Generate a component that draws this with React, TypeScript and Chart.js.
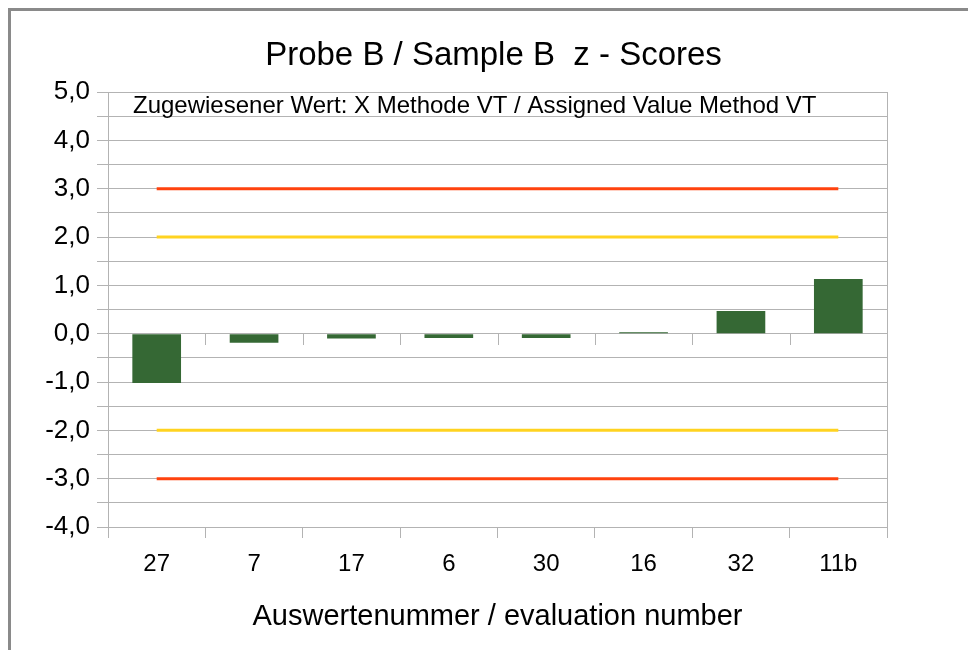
import React, { useEffect, useRef } from 'react';
import { Chart, registerables } from 'chart.js';

Chart.register(...registerables);

const categories = ['27', '7', '17', '6', '30', '16', '32', '11b'];
const zScores = [-1.02, -0.19, -0.1, -0.09, -0.09, 0.03, 0.47, 1.13];
const upperAction = [3, 3, 3, 3, 3, 3, 3, 3];
const upperWarning = [2, 2, 2, 2, 2, 2, 2, 2];
const lowerWarning = [-2, -2, -2, -2, -2, -2, -2, -2];
const lowerAction = [-3, -3, -3, -3, -3, -3, -3, -3];
const yMin = -4;
const yMax = 5;
const yStep = 0.5;

const titleText = 'Probe B / Sample B  z - Scores';
const noteText = 'Zugewiesener Wert: X Methode VT / Assigned Value Method VT';
const xAxisTitle = 'Auswertenummer / evaluation number';

const FONT = '"Liberation Sans", Arial, sans-serif';
const GRID = '#b3b3b3';

const decorPlugin = {
  id: 'decor',
  beforeDatasetsDraw(chart: any) {
    const { ctx, chartArea, scales } = chart;
    const xs = scales.x;
    const ys = scales.y;
    ctx.save();
    ctx.strokeStyle = GRID;
    ctx.lineWidth = 1;
    // right border of plot area
    const rx = Math.round(chartArea.right) + 0.5;
    ctx.beginPath();
    ctx.moveTo(rx, chartArea.top);
    ctx.lineTo(rx, chartArea.bottom);
    ctx.stroke();
    // small ticks under the zero line at category boundaries
    const y0 = Math.round(ys.getPixelForValue(0));
    for (let i = 1; i < categories.length; i++) {
      const x = Math.round(xs.getPixelForValue(i - 0.5)) + 0.5;
      ctx.beginPath();
      ctx.moveTo(x, y0);
      ctx.lineTo(x, y0 + 11);
      ctx.stroke();
    }
    ctx.restore();
  },
  afterDraw(chart: any) {
    const { ctx, chartArea, width } = chart;
    ctx.save();
    ctx.fillStyle = '#000';
    ctx.textBaseline = 'middle';
    ctx.textAlign = 'center';
    ctx.font = `33px ${FONT}`;
    ctx.fillText(titleText, width / 2, 45);
    ctx.textAlign = 'left';
    ctx.font = `24px ${FONT}`;
    ctx.fillText(noteText, chartArea.left + 25, chartArea.top + 14);
    ctx.restore();
  },
};

export default function App() {
  const ref = useRef<HTMLCanvasElement | null>(null);

  useEffect(() => {
    if (!ref.current) return;
    const chart = new Chart(ref.current, {
      type: 'bar',
      data: {
        labels: categories,
        datasets: [
          {
            type: 'line',
            label: '+3',
            data: upperAction,
            borderColor: '#ff420e',
            borderWidth: 3,
            pointRadius: 0,
            fill: false,
            order: 1,
          },
          {
            type: 'line',
            label: '+2',
            data: upperWarning,
            borderColor: '#ffd320',
            borderWidth: 3,
            pointRadius: 0,
            fill: false,
            order: 1,
          },
          {
            type: 'line',
            label: '-2',
            data: lowerWarning,
            borderColor: '#ffd320',
            borderWidth: 3,
            pointRadius: 0,
            fill: false,
            order: 1,
          },
          {
            type: 'line',
            label: '-3',
            data: lowerAction,
            borderColor: '#ff420e',
            borderWidth: 3,
            pointRadius: 0,
            fill: false,
            order: 1,
          },
          {
            type: 'bar',
            label: 'z-Score',
            data: zScores,
            backgroundColor: '#356834',
            borderWidth: 0,
            categoryPercentage: 1,
            barPercentage: 0.5,
            order: 2,
          },
        ],
      } as any,
      options: {
        responsive: false,
        animation: false,
        devicePixelRatio: 1,
        layout: { padding: { top: 81, left: 0, right: 89, bottom: 0 } },
        plugins: {
          legend: { display: false },
          title: { display: false },
          tooltip: { enabled: false },
        },
        scales: {
          x: {
            offset: true,
            grid: {
              display: true,
              drawOnChartArea: false,
              offset: true,
              color: GRID,
              tickLength: 11,
            },
            border: { display: false },
            ticks: {
              color: '#000',
              font: { family: FONT, size: 24 },
              padding: 12,
              autoSkip: false,
              maxRotation: 0,
            },
            title: {
              display: true,
              text: xAxisTitle,
              color: '#000',
              font: { family: FONT, size: 29 },
              padding: { top: 0, bottom: 16 },
            },
            afterFit(scale: any) {
              scale.height = 123;
            },
          },
          y: {
            min: yMin,
            max: yMax,
            grid: { color: GRID, lineWidth: 1, tickLength: 11 },
            border: { display: true, color: GRID },
            ticks: {
              stepSize: yStep,
              autoSkip: false,
              color: '#000',
              font: { family: FONT, size: 26 },
              padding: 7,
              callback: (v: any) => {
                const n = Number(v);
                return Number.isInteger(n) ? n.toFixed(1).replace('.', ',') : '';
              },
            },
            afterFit(scale: any) {
              scale.width = 97;
            },
          },
        },
      } as any,
      plugins: [decorPlugin],
    });
    return () => chart.destroy();
  }, []);

  return (
    <div
      style={{
        width: 968,
        height: 642,
        boxSizing: 'border-box',
        borderTop: '3px solid #8a8a8a',
        borderLeft: '3px solid #8a8a8a',
        overflow: 'hidden',
        background: '#fff',
      }}
    >
      <canvas ref={ref} width={965} height={639} style={{ display: 'block' }} />
    </div>
  );
}
